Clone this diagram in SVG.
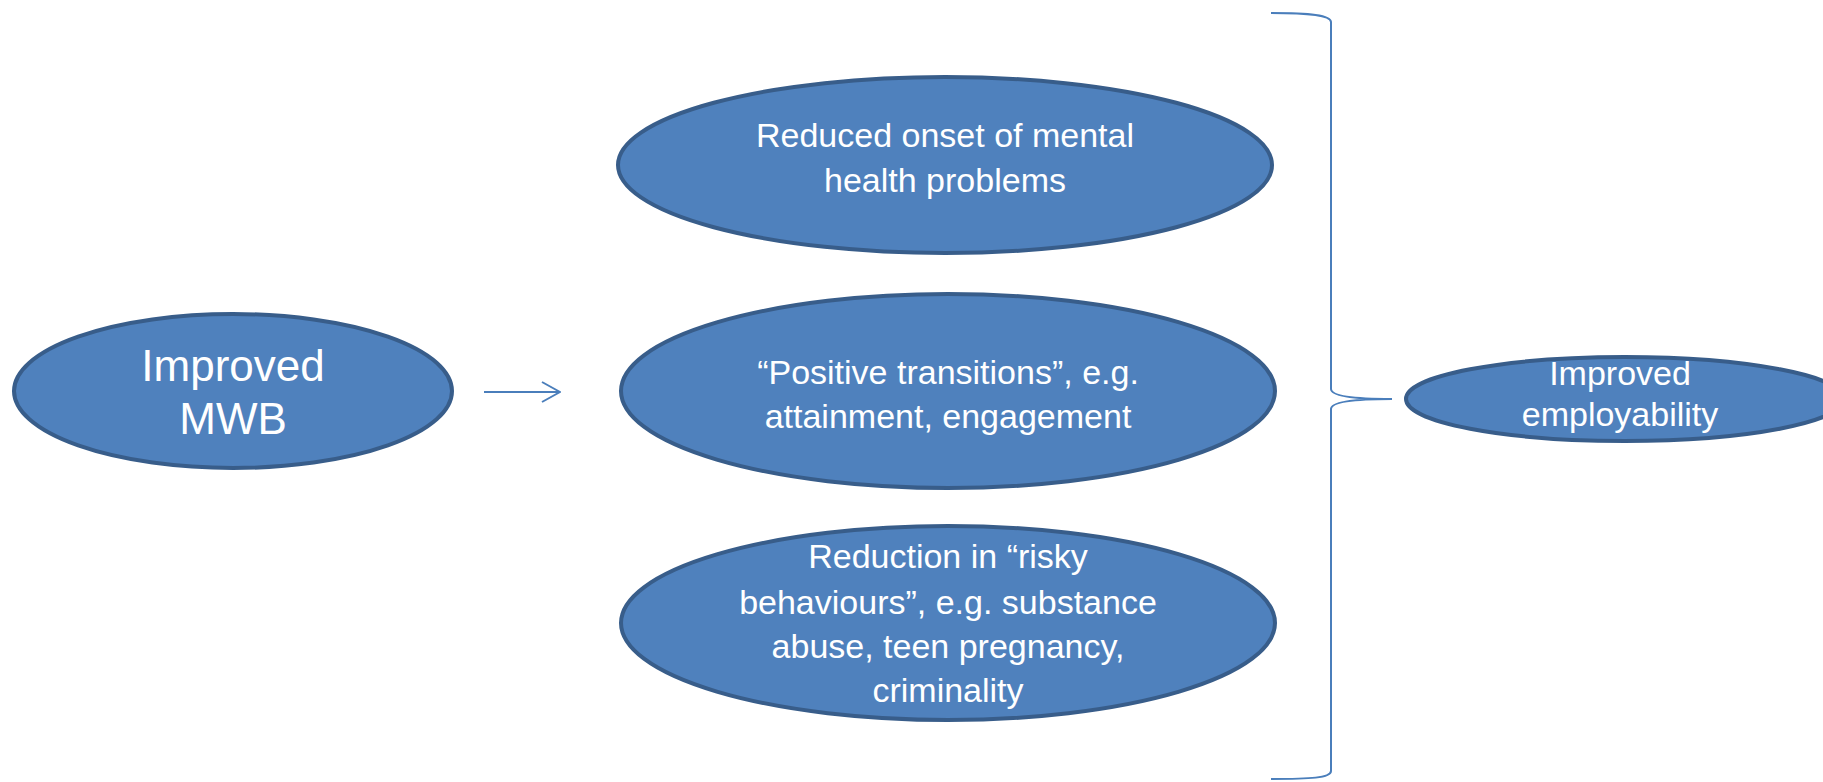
<svg xmlns="http://www.w3.org/2000/svg" width="1823" height="782" viewBox="0 0 1823 782">
<style>
.node ellipse{fill:#4F81BD;stroke:#385D8A;stroke-width:4}
.node text{fill:#FFFFFF;font-family:"Liberation Sans",Arial,sans-serif;font-size:34px;text-anchor:middle}
.big text{font-size:44px}
.conn{fill:none;stroke:#4A7EBB;stroke-width:2}
</style>
<defs>
<marker id="open" viewBox="0 0 20 22" refX="19" refY="11" markerWidth="20" markerHeight="22" markerUnits="userSpaceOnUse" orient="auto">
<path d="M1,1 L19,11 L1,21" fill="none" stroke="#4A7EBB" stroke-width="2"/>
</marker>
</defs>
<rect width="1823" height="782" fill="#FFFFFF"/>
<g id="connectors">
<line class="conn" x1="484" y1="392" x2="560" y2="392" marker-end="url(#open)"/>
<path class="conn" d="M1271,13 C1310,13 1331,15 1331,22 L1331,389 Q1331,399 1392,399 Q1331,399 1331,409 L1331,771 C1331,778 1310,779 1271,779"/>
</g>
<g id="n-mwb" class="node big">
<ellipse cx="233" cy="391" rx="219" ry="77"/>
<text x="233" y="381">Improved</text>
<text x="233" y="434">MWB</text>
</g>
<g id="n-onset" class="node">
<ellipse cx="945" cy="165" rx="327" ry="88"/>
<text x="945" y="147">Reduced onset of mental</text>
<text x="945" y="192">health problems</text>
</g>
<g id="n-transitions" class="node">
<ellipse cx="948" cy="391" rx="327" ry="97"/>
<text x="948" y="384">“Positive transitions”, e.g.</text>
<text x="948" y="428">attainment, engagement</text>
</g>
<g id="n-risky" class="node">
<ellipse cx="948" cy="623" rx="327" ry="97"/>
<text x="948" y="568">Reduction in “risky</text>
<text x="948" y="614">behaviours”, e.g. substance</text>
<text x="948" y="658">abuse, teen pregnancy,</text>
<text x="948" y="702">criminality</text>
</g>
<g id="n-employability" class="node">
<ellipse cx="1625" cy="399" rx="219" ry="42"/>
<text x="1620" y="385">Improved</text>
<text x="1620" y="426">employability</text>
</g>
</svg>
